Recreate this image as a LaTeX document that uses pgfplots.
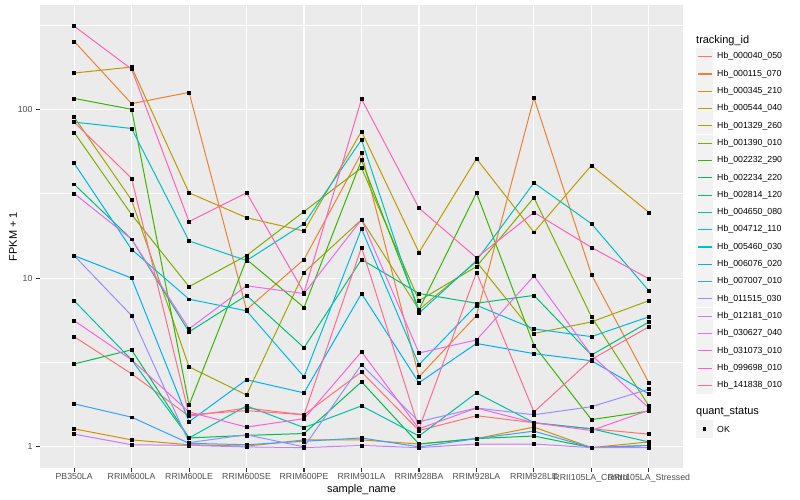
\documentclass[border=0pt]{standalone}
\usepackage{fontspec}
\setmainfont{Liberation Sans}
\usepackage{pgfplots}
\pgfplotsset{compat=1.18}
\usepackage{pgfplotstable}

% ggplot hue palette, 20 ids
\definecolor{hb1}{HTML}{F8766D}
\definecolor{hb2}{HTML}{EA8331}
\definecolor{hb3}{HTML}{D89000}
\definecolor{hb4}{HTML}{C09B00}
\definecolor{hb5}{HTML}{A3A500}
\definecolor{hb6}{HTML}{7CAE00}
\definecolor{hb7}{HTML}{39B600}
\definecolor{hb8}{HTML}{00BB4E}
\definecolor{hb9}{HTML}{00BF7D}
\definecolor{hb10}{HTML}{00C1A3}
\definecolor{hb11}{HTML}{00BFC4}
\definecolor{hb12}{HTML}{00BAE0}
\definecolor{hb13}{HTML}{00B0F6}
\definecolor{hb14}{HTML}{35A2FF}
\definecolor{hb15}{HTML}{9590FF}
\definecolor{hb16}{HTML}{C77CFF}
\definecolor{hb17}{HTML}{E76BF3}
\definecolor{hb18}{HTML}{FA62DB}
\definecolor{hb19}{HTML}{FF62BC}
\definecolor{hb20}{HTML}{FF6C91}
\definecolor{panel}{HTML}{EBEBEB}
\definecolor{keybg}{HTML}{F2F2F2}
\definecolor{gray30}{HTML}{4D4D4D}
\definecolor{gray20}{HTML}{333333}

% FPKM + 1, one row per sample, one column per tracking id
\pgfplotstableread{
x  s1   s2   s3   s4   s5   s6   s7   s8   s9   s10  s11  s12  s13  s14  s15  s16  s17  s18  s19  s20
0  4.5  253  1.28 164  90   73   116  3.1  36   7.35 84   48   13.6 1.8  13.6 1.19 31.7 5.6  311  84
1  2.71 108  1.1  178  29   23.8 100  3.76 17   3.28 77   14.8 10   1.5  6    1.03 17   3.28 173  39
2  1.52 126  1.03 32   2.98 8.9  1.77 1.13 4.8  1.13 16.6 7.5  1.41 1.05 1.06 1.02 5.0  1.61 21.6 1.55
3  1.7  6.5  1.01 22.8 2.03 13.6 12.9 1.17 7.9  1.75 12.7 6.4  2.5  1.03 1.18 1.0  9.0  1.31 32   1.64
4  1.55 12.9 1.1  19   10.8 24.8 6.7  1.2  3.87 1.3  21   2.6  2.09 1.08 1.0  0.99 8.1  1.47 8.2  1.55
5  2.78 55   1.1  74   22.2 45   50   2.43 12.9 1.75 66   19.6 8.1  1.13 3.07 1.02 22.2 3.66 115  15.2
6  1.25 2.6  1.04 14.2 6.5  7.35 6.5  1.04 8.1  1.16 6.2  3.07 2.4  1.0  1.41 0.99 3.6  1.28 26   1.28
7  1.53 6.0  1.12 51   12.5 11.7 32   1.12 7.1  2.09 12.7 6.9  4.1  1.12 1.7  1.04 4.3  1.7  13.2 10.8
8  1.39 117  1.31 18.7 4.7  30   4.0  1.16 7.9  1.39 36.7 5.0  3.57 1.24 1.55 1.04 10.3 1.39 24.5 1.61
9  1.28 10.5 0.99 46.5 5.5  5.9  1.45 0.99 3.5  1.28 21   4.5  3.24 0.99 1.73 0.99 3.5  1.25 15.2 3.3
10 1.19 2.4  1.07 24.5 7.35 1.75 1.63 1.02 5.5  1.07 8.4  5.9  2.06 1.02 2.2  0.99 1.7  1.65 9.9  5.15
}\fpkm

\begin{document}
\begin{tikzpicture}[x=1bp,y=1bp]
\useasboundingbox (0,0) rectangle (800,500);
\begin{axis}[
    at={(39.6bp,32bp)}, anchor=south west,
    scale only axis, width=643.8bp, height=463bp,
    xmin=-0.6, xmax=10.6,
    ymode=log, ymin=0.75, ymax=415,
    axis background/.style={fill=panel},
    axis x line*=bottom, axis y line*=left,
    axis line style={draw=none},
    xtick={0,...,10},
    xticklabels={PB350LA,RRIM600LA,RRIM600LE,RRIM600SE,RRIM600PE,RRIM901LA,RRIM928BA,RRIM928LA,RRIM928LE,RRII105LA\_Control,RRII105LA\_Stressed},
    ytick={1,10,100}, yticklabels={1,10,100},
    minor ytick={3.1623,31.623,316.23},
    xmajorgrids, ymajorgrids, yminorgrids,
    major grid style={white, line width=1.07bp},
    minor grid style={white, line width=0.53bp},
    tick align=outside, major tick length=3.7bp,
    minor tick length=0pt,
    tick style={gray20, line width=1.07bp},
    ticklabel style={font=\fontsize{8.8}{10}\selectfont, text=gray30},
    xticklabel style={yshift=1.5bp},
    clip=true,
  ]
  \pgfplotsinvokeforeach{1,...,20}{
    \addplot[draw=hb#1, line width=1bp, mark=none] table[x=x, y=s#1] {\fpkm};
  }
  \pgfplotsinvokeforeach{1,...,20}{
    \addplot[only marks, mark=square*, mark size=1.45bp, black] table[x=x, y=s#1] {\fpkm};
  }
\end{axis}

% axis titles
\node[font=\fontsize{11}{13}\selectfont] at (361.5,10.5) {sample\_name};
\node[rotate=90, font=\fontsize{11}{13}\selectfont] at (13,263.5) {FPKM + 1};

% legend: tracking_id
\node[anchor=west, font=\fontsize{11}{13}\selectfont, inner sep=0pt] at (696,459.3) {tracking\_id};
\foreach \i/\name [count=\k from 0] in {
    1/Hb\_000040\_050, 2/Hb\_000115\_070, 3/Hb\_000345\_210, 4/Hb\_000544\_040,
    5/Hb\_001329\_260, 6/Hb\_001390\_010, 7/Hb\_002232\_290, 8/Hb\_002234\_220,
    9/Hb\_002814\_120, 10/Hb\_004650\_080, 11/Hb\_004712\_110, 12/Hb\_005460\_030,
    13/Hb\_006076\_020, 14/Hb\_007007\_010, 15/Hb\_011515\_030, 16/Hb\_012181\_010,
    17/Hb\_030627\_040, 18/Hb\_031073\_010, 19/Hb\_099698\_010, 20/Hb\_141838\_010} {
  \pgfmathsetmacro{\yy}{500-56.7-17.3*\k}
  \fill[keybg] (696,\yy-8.6) rectangle (713.3,\yy+8.6);
  \draw[color=hb\i, line width=1.07bp] (697.7,\yy) -- (711.6,\yy);
  \node[anchor=west, font=\fontsize{8.8}{10}\selectfont, inner sep=0pt] at (717,\yy) {\name};
}

% legend: quant_status
\node[anchor=west, font=\fontsize{11}{13}\selectfont, inner sep=0pt] at (696,88) {quant\_status};
\fill[keybg] (696,62.4) rectangle (713.3,79.7);
\fill[black] (703,69.4) rectangle (706.3,72.7);
\node[anchor=west, font=\fontsize{8.8}{10}\selectfont, inner sep=0pt] at (717,71) {OK};
\end{tikzpicture}
\end{document}
